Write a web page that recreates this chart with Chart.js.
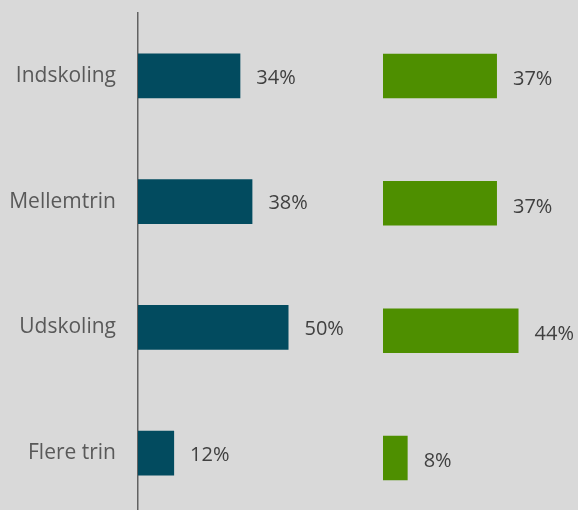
<!DOCTYPE html>
<html>
<head>
<meta charset="utf-8">
<script src="https://cdn.jsdelivr.net/npm/chart.js@4/dist/chart.umd.min.js"></script>
<style>
  html, body { margin: 0; padding: 0; background: #d9d9d9; width: 578px; height: 510px; overflow: hidden; }
  #wrapL { position: absolute; left: 0; top: 0; width: 349px; height: 520px; }
  #wrapR { position: absolute; left: 383px; top: 0; width: 195px; height: 525px; }
</style>
</head>
<body>
<div id="wrapL"><canvas id="cL"></canvas></div>
<div id="wrapR"><canvas id="cR"></canvas></div>
<script>
const categories = ['Indskoling', 'Mellemtrin', 'Udskoling', 'Flere trin'];
const seriesA = [34, 38, 50, 12];
const seriesB = [37, 37, 44, 8];

const FONT = "'Open Sans', sans-serif";

function valueLabels(dy) {
  return {
    id: 'valueLabels',
    afterDatasetsDraw(chart) {
      const ctx = chart.ctx;
      ctx.save();
      ctx.font = '20px ' + FONT;
      ctx.fillStyle = '#404040';
      ctx.textAlign = 'left';
      ctx.textBaseline = 'middle';
      const meta = chart.getDatasetMeta(0);
      const data = chart.data.datasets[0].data;
      meta.data.forEach((bar, i) => {
        ctx.fillText(data[i] + '%', bar.x + 16, bar.y + dy);
      });
      ctx.restore();
    }
  };
}

function makeChart(id, data, color, showAxis, xMax, pad) {
  return new Chart(document.getElementById(id), {
    type: 'bar',
    data: {
      labels: categories,
      datasets: [{
        data: data,
        backgroundColor: color,
        borderWidth: 0,
        barPercentage: pad.bar,
        categoryPercentage: 1
      }]
    },
    options: {
      indexAxis: 'y',
      responsive: true,
      maintainAspectRatio: false,
      animation: false,
      events: [],
      layout: { padding: { top: pad.top, bottom: pad.bottom, left: 0, right: 0 } },
      plugins: { legend: { display: false }, tooltip: { enabled: false } },
      scales: {
        x: { display: false, min: 0, max: xMax },
        y: {
          display: showAxis,
          grid: { display: false },
          border: { display: showAxis, color: '#626262', width: 1.5 },
          ticks: { color: '#595959', font: { family: FONT, size: 21 }, padding: 14 },
          afterFit(scale) {
            if (showAxis) scale.width = 138;
            scale.paddingTop = 0;
            scale.paddingBottom = 0;
          }
        }
      }
    },
    plugins: [valueLabels(pad.dy)]
  });
}

makeChart('cL', seriesA, '#024b5f', true, 211 / 3.01, { top: 13, bottom: 4, bar: 0.354, dy: 2 });
makeChart('cR', seriesB, '#4e8f00', false, 195 / 3.08, { top: 12.3, bottom: 3.3, bar: 0.35, dy: 3.5 });
</script>
</body>
</html>
